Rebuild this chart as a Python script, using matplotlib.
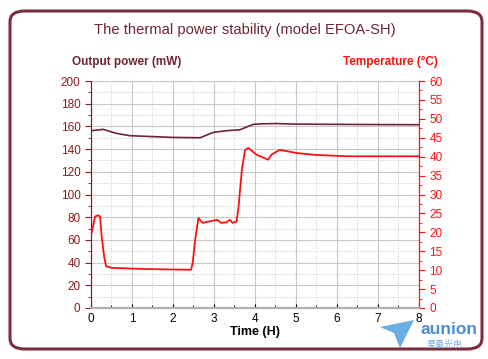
import numpy as np
import matplotlib.pyplot as plt
from matplotlib.patches import FancyBboxPatch, Polygon
from matplotlib.ticker import MultipleLocator

plt.rcParams['font.family'] = ['Liberation Sans', 'DejaVu Sans']

# output power (mW), left axis
power_t = [0.0, 0.3, 0.6, 0.95, 1.5, 2.0, 2.66, 2.98, 3.3, 3.63, 3.8, 3.96, 4.2, 4.5, 5.0, 6.0, 7.0, 8.0]
power_mw = [156.2, 157.4, 154.0, 151.8, 151.0, 150.3, 150.0, 154.7, 156.2, 157.0, 159.5, 161.8, 162.3, 162.5, 162.0, 161.8, 161.6, 161.5]

# temperature (°C), right axis
temp_t = [0.02, 0.1, 0.17, 0.22, 0.26, 0.32, 0.37, 0.51, 1.3, 2.44, 2.48, 2.54, 2.62, 2.72,
          3.08, 3.17, 3.29, 3.39, 3.45, 3.55, 3.6, 3.68, 3.76, 3.84, 4.04, 4.32, 4.4, 4.6,
          5.0, 5.42, 6.23, 8.0]
temp_c = [20.0, 24.2, 24.5, 24.2, 18.9, 13.6, 11.0, 10.6, 10.3, 10.1, 11.9, 18.0, 23.8, 22.5,
          23.3, 22.5, 22.6, 23.3, 22.5, 22.8, 26.9, 36.6, 41.8, 42.3, 40.5, 39.2, 40.5, 41.8,
          41.0, 40.5, 40.1, 40.1]

maroon = '#6e2434'
red = '#ff1010'

fig = plt.figure(figsize=(4.89, 3.59), dpi=100)

# rounded frame behind everything
frame = FancyBboxPatch((10 / 489, 10 / 359), 472 / 489, 338 / 359,
                       boxstyle='round,pad=0,rounding_size=0.03',
                       transform=fig.transFigure, facecolor='white',
                       edgecolor='#7a2e3c', linewidth=2.2, zorder=-10)
fig.patches.append(frame)

ax = fig.add_axes([91 / 489, 51 / 359, 328 / 489, 227 / 359])
ax.set_facecolor('none')
ax2 = ax.twinx()

ax.plot(power_t, power_mw, color=maroon, lw=1.2, zorder=3)
ax2.plot(temp_t, temp_c, color=red, lw=1.3, zorder=3)

ax.set_xlim(0, 8)
ax.set_ylim(0, 200)
ax2.set_ylim(0, 60)

ax.xaxis.set_major_locator(MultipleLocator(1))
ax.xaxis.set_minor_locator(MultipleLocator(0.5))
ax.yaxis.set_major_locator(MultipleLocator(20))
ax.yaxis.set_minor_locator(MultipleLocator(10))
ax2.yaxis.set_major_locator(MultipleLocator(5))
ax2.yaxis.set_minor_locator(MultipleLocator(2.5))

ax.grid(which='major', color='#c8c8c8', lw=0.8)
ax.grid(which='minor', color='#c8c8c8', lw=0.7, ls=':')
ax.set_axisbelow(True)

ax.tick_params(axis='y', which='both', colors='#8b1a1a', labelsize=8.5, direction='out', length=4)
ax.tick_params(axis='y', which='minor', length=2)
ax.tick_params(axis='x', which='major', direction='in', length=3, labelsize=8.5, colors='black')
ax.tick_params(axis='x', which='minor', direction='in', length=2)
ax2.tick_params(axis='y', which='both', colors=red, labelsize=8.5, direction='out', length=4)
ax2.tick_params(axis='y', which='minor', length=2)

for a in (ax, ax2):
    a.spines['top'].set_visible(False)
    a.spines['left'].set_color(maroon)
    a.spines['right'].set_color(red)
    a.spines['bottom'].set_color('#b0b0b0')
    a.spines['bottom'].set_linewidth(1.5)

ax.set_xlabel('Time (H)', fontsize=9, fontweight='bold', labelpad=1)

fig.text(0.5, 1 - 30 / 359, 'The thermal power stability (model EFOA-SH)',
         ha='center', va='center', fontsize=10.6, color=maroon)
fig.text(72 / 489, 1 - 62 / 359, 'Output power (mW)', ha='left', va='center',
         fontsize=8.5, fontweight='bold', color=maroon)
fig.text(438 / 489, 1 - 62 / 359, 'Temperature (°C)', ha='right', va='center',
         fontsize=8.5, fontweight='bold', color=red)

# logo
plane = Polygon([(380 / 489, 1 - 327 / 359), (414 / 489, 1 - 320 / 359),
                 (400 / 489, 1 - 348 / 359), (394 / 489, 1 - 333 / 359)],
                closed=True, transform=fig.transFigure, facecolor='#5aa6e0',
                edgecolor='none', alpha=0.9)
fig.patches.append(plane)
fig.text(449 / 489, 1 - 330 / 359, 'aunion', ha='center', va='center',
         fontsize=12.5, fontweight='bold', color='#4a8fd0')
fig.text(445 / 489, 1 - 344 / 359, '昊量光电', ha='center', va='center',
         fontsize=6.5, color='#7fb0e0', family=['Noto Sans CJK SC', 'DejaVu Sans'])

fig.savefig('out.png', dpi=100)
